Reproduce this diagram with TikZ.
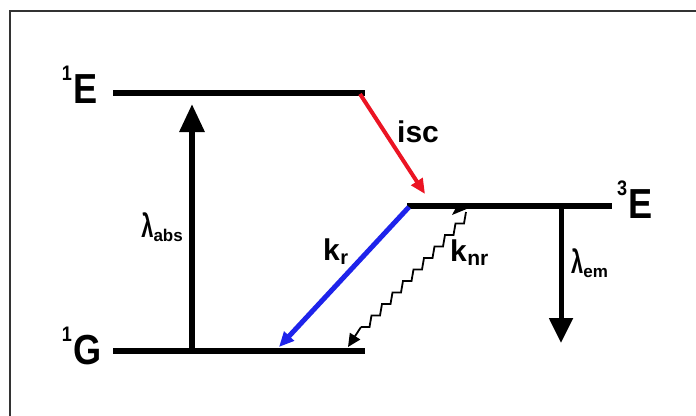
\documentclass[tikz,border=0pt]{standalone}
\usepackage{fontspec}
\setmainfont{Liberation Sans}
\usetikzlibrary{arrows.meta}
\definecolor{iscred}{RGB}{235,20,35}
\definecolor{krblue}{RGB}{30,35,235}
\newcommand{\stlab}[2]{\raisebox{23pt}{\fontsize{21}{21}\selectfont #1}\kern2pt{\fontsize{42}{42}\selectfont #2}}
\newcommand{\lamlab}[1]{\scalebox{0.66}[1]{\fontsize{33}{33}\selectfont λ}\kern0pt\raisebox{-4pt}{\fontsize{17}{17}\selectfont #1}}
\tikzset{
  level/.style={line width=5.5pt},
  statelbl/.style={font=\bfseries, inner sep=0pt, xscale=0.86},
  ratelbl/.style={font=\fontsize{30}{30}\selectfont\bfseries, inner sep=0pt},
  lamlbl/.style={font=\bfseries, inner sep=0pt},
}
\begin{document}
\begin{tikzpicture}[x=1pt,y=-1pt]
\useasboundingbox (0,0) rectangle (696,415);
\draw[line width=2pt, black!80] (10,418) -- (10,11) -- (698,11);
% levels
\coordinate (E1l) at (113,93);  \coordinate (E1r) at (365,93);
\coordinate (G1l) at (113,351); \coordinate (G1r) at (365,351);
\coordinate (E3l) at (407,206); \coordinate (E3r) at (612,206);
\draw[level] (E1l) -- (E1r);
\draw[level] (G1l) -- (G1r);
\draw[level] (E3l) -- (E3r);
% state labels
\node[statelbl, anchor=base east] (lE1) at (98,103) {\stlab{1}{E}};
\node[statelbl, anchor=base east] (lG1) at (102,364) {\stlab{1}{G}};
\node[statelbl, anchor=base west] (lE3) at (617,218) {\stlab{3}{E}};
% absorption
\coordinate (absS) at (192,351); \coordinate (absT) at (192,104);
\draw[line width=6pt, -{Triangle[length=28pt,width=24pt]}] (absS) -- (absT);
\node[lamlbl, anchor=base east] (labs) at (183,237) {\lamlab{abs}};
% isc
\coordinate (iscS) at (360,94); \coordinate (iscT) at (425,194);
\draw[iscred, line width=4pt, -{Triangle[length=15pt,width=13pt]}] (iscS) -- (iscT);
\node[ratelbl, anchor=base west] (lisc) at (397,142) {isc};
% kr
\coordinate (krS) at (409,207); \coordinate (krT) at (279,347);
\draw[krblue, line width=5pt, -{Triangle[length=15pt,width=13pt]}] (krS) -- (krT);
\node[ratelbl, anchor=base west] (lkr) at (323,260) {k\kern0.5pt\raisebox{-4pt}{\fontsize{20}{20}\selectfont r}};
% knr (staircase)
\coordinate (knrS) at (466,212); \coordinate (knrT) at (348,347);
\fill (452,215) -- (469,208) -- (456,207.5) -- cycle;
\draw[line width=1.8pt, line join=miter]
  (knrS) \foreach \i in {1,...,10} { -- ++(-2,11.5) -- ++(-8.5,0) } coordinate (knrM);
\draw[line width=1.8pt, -{Triangle[length=13pt,width=12pt]}] (knrM) -- (knrT);
\node[ratelbl, anchor=base west] (lknr) at (450,261) {k\kern0.5pt\raisebox{-4pt}{\fontsize{21}{21}\selectfont nr}};
% emission
\coordinate (emS) at (561,206); \coordinate (emT) at (561,343);
\draw[line width=5pt, -{Triangle[length=25pt,width=23pt]}] (emS) -- (emT);
\node[lamlbl, anchor=base west] (lem) at (571,273) {\lamlab{em}};
\end{tikzpicture}
\end{document}
